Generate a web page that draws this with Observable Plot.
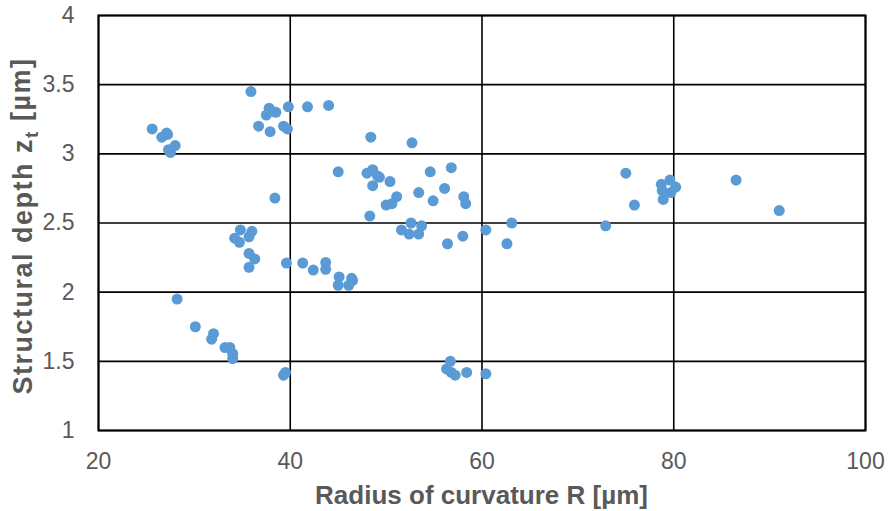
<!DOCTYPE html>
<html>
<head>
<meta charset="utf-8">
<script src="https://cdn.jsdelivr.net/npm/d3@7"></script>
<script src="https://cdn.jsdelivr.net/npm/@observablehq/plot@0.6"></script>
<style>
  html, body { margin: 0; padding: 0; background: #fff; }
  #chart svg { display: block; }
</style>
</head>
<body>
<div id="chart"></div>
<script>
// Radius of curvature R [µm]
const radius = [
  25.6, 26.6, 27.1, 27.2, 28.0, 27.3, 27.5,
  35.9, 37.8, 38.5, 37.5, 38.0, 39.8, 41.8, 44.0, 36.7, 37.9, 39.3, 39.7,
  38.4, 34.8, 36.0, 34.2, 34.7, 35.7, 35.7, 36.3, 35.7,
  39.6, 41.3, 42.4, 43.7, 43.7, 45.1, 45.0, 46.4, 46.5, 46.1,
  28.2, 30.1, 32.0, 31.8, 33.2, 33.7, 34.0, 34.0, 39.3, 39.5,
  48.4, 52.7, 45.0, 48.0, 48.6, 49.3, 50.4, 48.6, 49.1, 54.6, 56.8,
  53.4, 56.1, 54.9, 58.1, 58.3, 51.1, 50.0, 50.6, 48.3,
  51.6, 52.6, 53.7, 52.4, 53.4, 56.4, 58.0, 60.4, 63.1, 62.6,
  72.9, 75.0, 75.9, 79.6, 78.7, 80.2, 78.8, 79.7, 78.9, 86.5, 91.0,
  56.7, 56.3, 56.8, 57.2, 58.4, 60.4
];
// Structural depth z_t [µm]
const depth = [
  3.18, 3.12, 3.15, 3.14, 3.06, 3.03, 3.01,
  3.45, 3.33, 3.30, 3.28, 3.31, 3.34, 3.34, 3.35, 3.20, 3.16, 3.20, 3.18,
  2.68, 2.45, 2.44, 2.39, 2.36, 2.40, 2.28, 2.24, 2.18,
  2.21, 2.21, 2.16, 2.215, 2.165, 2.11, 2.05, 2.10, 2.085, 2.05,
  1.95, 1.75, 1.70, 1.66, 1.60, 1.60, 1.555, 1.52, 1.40, 1.42,
  3.12, 3.08, 2.87, 2.86, 2.885, 2.83, 2.80, 2.77, 2.84, 2.87, 2.90,
  2.72, 2.75, 2.66, 2.69, 2.64, 2.69, 2.63, 2.64, 2.55,
  2.45, 2.50, 2.48, 2.42, 2.42, 2.35, 2.405, 2.45, 2.50, 2.35,
  2.48, 2.86, 2.63, 2.81, 2.78, 2.76, 2.735, 2.72, 2.67, 2.81, 2.59,
  1.50, 1.445, 1.42, 1.40, 1.42, 1.41
];
const xTicks = [20, 40, 60, 80, 100];
const yTicks = [1, 1.5, 2, 2.5, 3, 3.5, 4];
const xTitle = "Radius of curvature R [µm]";
const yTitleParts = ["Structural depth z", "t", " [µm]"];

const data = radius.map((r, i) => ({r, z: depth[i]}));

const W = 891, H = 511;
const mL = 98, mR = 26, mT = 15, mB = 81;
const textColor = "#595959";

const chart = Plot.plot({
  width: W,
  height: H,
  marginLeft: mL,
  marginRight: mR,
  marginTop: mT,
  marginBottom: mB,
  style: {fontFamily: "'Liberation Sans', Arial, sans-serif", fontSize: "23px", color: textColor, background: "#fff"},
  x: {domain: [20, 100], label: null},
  y: {domain: [1, 4], label: null},
  marks: [
    Plot.gridX(xTicks, {stroke: "#000", strokeOpacity: 1, strokeWidth: 1.6}),
    Plot.gridY(yTicks, {stroke: "#000", strokeOpacity: 1, strokeWidth: 1.6}),
    Plot.frame({stroke: "#000", strokeWidth: 2}),
    Plot.axisX({ticks: xTicks, tickSize: 0, tickPadding: 22, tickFormat: d => String(d), label: null, fill: textColor}),
    Plot.axisY({ticks: yTicks, tickSize: 0, tickPadding: 24, tickFormat: d => String(d), label: null, fill: textColor}),
    Plot.dot(data, {x: "r", y: "z", r: 5.5, fill: "#5b9bd5", stroke: "none"})
  ]
});

const svg = d3.select(chart);
// x axis title
svg.append("text")
  .attr("x", mL + (W - mL - mR) / 2)
  .attr("y", 504)
  .attr("text-anchor", "middle")
  .attr("fill", textColor)
  .attr("font-weight", "bold")
  .attr("font-size", 26)
  .text(xTitle);
// y axis title with subscript
const yt = svg.append("text")
  .attr("transform", `translate(32,226) rotate(-90)`)
  .attr("text-anchor", "middle")
  .attr("fill", textColor)
  .attr("font-weight", "bold")
  .attr("font-size", 27)
  .attr("letter-spacing", "1.5px");
yt.append("tspan").text(yTitleParts[0]);
yt.append("tspan").attr("dy", "0.3em").attr("font-size", 19).text(yTitleParts[1]);
yt.append("tspan").attr("dy", "-0.3em").text(yTitleParts[2]);

document.getElementById("chart").appendChild(chart);
</script>
</body>
</html>
